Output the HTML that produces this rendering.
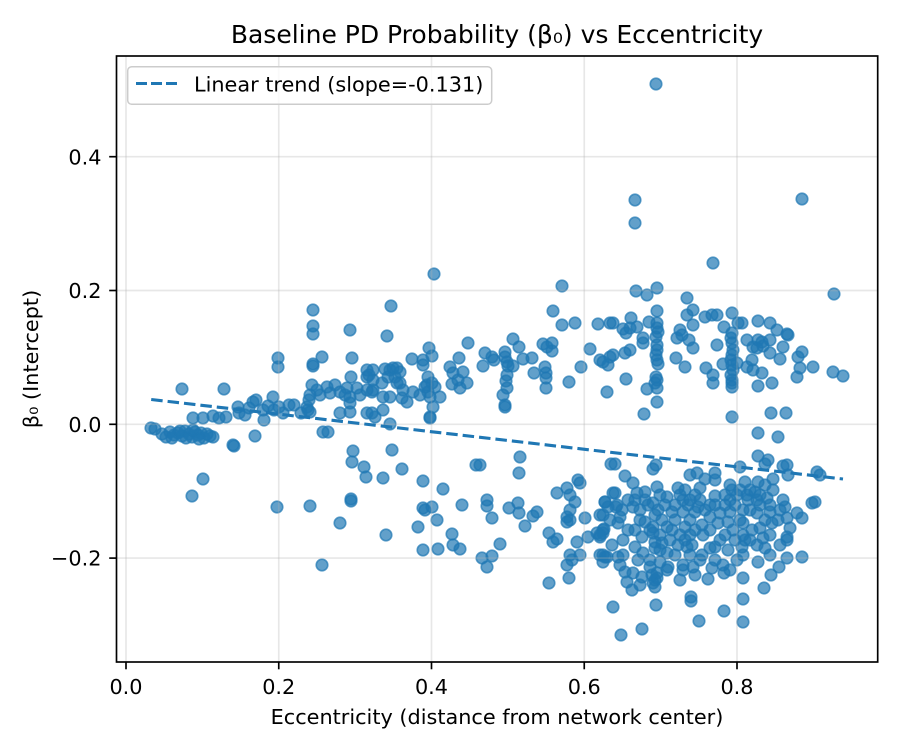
<!DOCTYPE html>
<html><head><meta charset="utf-8"><style>
html,body{margin:0;padding:0;background:#fff;}
svg{display:block;}
text{font-family:"DejaVu Sans","Liberation Sans",sans-serif;fill:#000;}
</style></head><body>
<svg width="900" height="750" viewBox="0 0 900 750" xmlns="http://www.w3.org/2000/svg">
<rect x="0" y="0" width="900" height="750" fill="#fff"/>
<text x="497" y="43" font-size="25" text-anchor="middle">Baseline PD Probability (β₀) vs Eccentricity</text>
<g fill="#1f77b4" fill-opacity="0.7" stroke="#1f77b4" stroke-opacity="0.7" stroke-width="1.6">
<circle cx="151" cy="428" r="5.8"/><circle cx="155" cy="429" r="5.8"/>
<circle cx="162" cy="434" r="5.8"/><circle cx="166" cy="437" r="5.8"/><circle cx="170" cy="432" r="5.8"/><circle cx="174" cy="435" r="5.8"/><circle cx="178" cy="433" r="5.8"/><circle cx="182" cy="436" r="5.8"/><circle cx="185" cy="431" r="5.8"/><circle cx="189" cy="434" r="5.8"/><circle cx="192" cy="437" r="5.8"/><circle cx="195" cy="432" r="5.8"/><circle cx="198" cy="435" r="5.8"/><circle cx="201" cy="433" r="5.8"/><circle cx="204" cy="438" r="5.8"/><circle cx="207" cy="434" r="5.8"/><circle cx="210" cy="436" r="5.8"/><circle cx="213" cy="437" r="5.8"/><circle cx="172" cy="438" r="5.8"/><circle cx="186" cy="438" r="5.8"/><circle cx="199" cy="439" r="5.8"/><circle cx="180" cy="431" r="5.8"/><circle cx="193" cy="430" r="5.8"/>
<circle cx="182" cy="389" r="5.8"/><circle cx="224" cy="389" r="5.8"/>
<circle cx="193" cy="418" r="5.8"/><circle cx="203" cy="418" r="5.8"/><circle cx="213" cy="416" r="5.8"/><circle cx="219" cy="418" r="5.8"/><circle cx="226" cy="417" r="5.8"/>
<circle cx="233" cy="445" r="5.8"/><circle cx="234" cy="446" r="5.8"/><circle cx="255" cy="436" r="5.8"/>
<circle cx="203" cy="479" r="5.8"/><circle cx="192" cy="496" r="5.8"/>
<circle cx="238" cy="407" r="5.8"/><circle cx="239" cy="413" r="5.8"/><circle cx="249" cy="408" r="5.8"/><circle cx="253" cy="402" r="5.8"/><circle cx="256" cy="400" r="5.8"/><circle cx="263" cy="410" r="5.8"/><circle cx="264" cy="420" r="5.8"/><circle cx="273" cy="397" r="5.8"/><circle cx="274" cy="410" r="5.8"/><circle cx="279" cy="407" r="5.8"/><circle cx="283" cy="413" r="5.8"/><circle cx="289" cy="405" r="5.8"/><circle cx="294" cy="405" r="5.8"/><circle cx="301" cy="413" r="5.8"/><circle cx="308" cy="410" r="5.8"/><circle cx="309" cy="400" r="5.8"/><circle cx="268" cy="406" r="5.8"/><circle cx="245" cy="415" r="5.8"/>
<circle cx="278" cy="358" r="5.8"/><circle cx="278" cy="367" r="5.8"/>
<circle cx="313" cy="310" r="5.8"/><circle cx="313" cy="326" r="5.8"/><circle cx="313" cy="334" r="5.8"/><circle cx="313" cy="364" r="5.8"/><circle cx="313" cy="366" r="5.8"/><circle cx="322" cy="357" r="5.8"/><circle cx="350" cy="330" r="5.8"/><circle cx="352" cy="358" r="5.8"/><circle cx="351" cy="377" r="5.8"/>
<circle cx="312" cy="385" r="5.8"/><circle cx="310" cy="395" r="5.8"/><circle cx="317" cy="390" r="5.8"/><circle cx="327" cy="387" r="5.8"/><circle cx="330" cy="393" r="5.8"/><circle cx="340" cy="392" r="5.8"/><circle cx="347" cy="388" r="5.8"/><circle cx="350" cy="397" r="5.8"/><circle cx="357" cy="388" r="5.8"/><circle cx="307" cy="407" r="5.8"/><circle cx="310" cy="412" r="5.8"/><circle cx="340" cy="413" r="5.8"/><circle cx="350" cy="403" r="5.8"/><circle cx="350" cy="412" r="5.8"/><circle cx="367" cy="370" r="5.8"/><circle cx="367" cy="377" r="5.8"/><circle cx="367" cy="390" r="5.8"/><circle cx="367" cy="413" r="5.8"/><circle cx="369" cy="375" r="5.8"/><circle cx="373" cy="380" r="5.8"/><circle cx="335" cy="385" r="5.8"/><circle cx="320" cy="395" r="5.8"/><circle cx="345" cy="395" r="5.8"/><circle cx="360" cy="395" r="5.8"/>
<circle cx="323" cy="432" r="5.8"/><circle cx="328" cy="432" r="5.8"/><circle cx="353" cy="451" r="5.8"/><circle cx="352" cy="462" r="5.8"/><circle cx="364" cy="467" r="5.8"/><circle cx="366" cy="477" r="5.8"/><circle cx="277" cy="507" r="5.8"/><circle cx="310" cy="506" r="5.8"/><circle cx="340" cy="523" r="5.8"/><circle cx="351" cy="499" r="5.8"/><circle cx="351" cy="501" r="5.8"/><circle cx="322" cy="565" r="5.8"/>
<circle cx="434" cy="274" r="5.8"/><circle cx="391" cy="306" r="5.8"/><circle cx="387" cy="336" r="5.8"/><circle cx="562" cy="286" r="5.8"/><circle cx="553" cy="311" r="5.8"/><circle cx="562" cy="325" r="5.8"/><circle cx="575" cy="323" r="5.8"/><circle cx="598" cy="324" r="5.8"/><circle cx="610" cy="323" r="5.8"/><circle cx="513" cy="339" r="5.8"/><circle cx="519" cy="347" r="5.8"/><circle cx="543" cy="344" r="5.8"/><circle cx="547" cy="347" r="5.8"/><circle cx="552" cy="343" r="5.8"/><circle cx="552" cy="351" r="5.8"/><circle cx="590" cy="349" r="5.8"/><circle cx="468" cy="343" r="5.8"/><circle cx="429" cy="348" r="5.8"/><circle cx="432" cy="356" r="5.8"/><circle cx="423" cy="360" r="5.8"/><circle cx="412" cy="359" r="5.8"/><circle cx="423" cy="365" r="5.8"/><circle cx="459" cy="358" r="5.8"/><circle cx="450" cy="367" r="5.8"/><circle cx="453" cy="373" r="5.8"/><circle cx="463" cy="372" r="5.8"/><circle cx="452" cy="384" r="5.8"/><circle cx="460" cy="388" r="5.8"/><circle cx="467" cy="383" r="5.8"/><circle cx="458" cy="380" r="5.8"/><circle cx="485" cy="353" r="5.8"/><circle cx="492" cy="357" r="5.8"/><circle cx="483" cy="366" r="5.8"/><circle cx="494" cy="360" r="5.8"/><circle cx="505" cy="352" r="5.8"/><circle cx="505" cy="357" r="5.8"/><circle cx="507" cy="362" r="5.8"/><circle cx="508" cy="366" r="5.8"/><circle cx="513" cy="366" r="5.8"/><circle cx="507" cy="375" r="5.8"/><circle cx="506" cy="381" r="5.8"/><circle cx="507" cy="388" r="5.8"/><circle cx="503" cy="395" r="5.8"/><circle cx="505" cy="405" r="5.8"/><circle cx="505" cy="407" r="5.8"/><circle cx="523" cy="359" r="5.8"/><circle cx="532" cy="358" r="5.8"/><circle cx="534" cy="373" r="5.8"/><circle cx="545" cy="367" r="5.8"/><circle cx="546" cy="373" r="5.8"/><circle cx="546" cy="378" r="5.8"/><circle cx="546" cy="388" r="5.8"/><circle cx="569" cy="382" r="5.8"/><circle cx="581" cy="367" r="5.8"/><circle cx="603" cy="362" r="5.8"/><circle cx="600" cy="360" r="5.8"/><circle cx="608" cy="365" r="5.8"/><circle cx="607" cy="392" r="5.8"/>
<circle cx="373" cy="370" r="5.8"/><circle cx="385" cy="369" r="5.8"/><circle cx="393" cy="368" r="5.8"/><circle cx="400" cy="372" r="5.8"/><circle cx="388" cy="377" r="5.8"/><circle cx="397" cy="383" r="5.8"/><circle cx="382" cy="383" r="5.8"/><circle cx="373" cy="390" r="5.8"/><circle cx="403" cy="390" r="5.8"/><circle cx="390" cy="370" r="5.8"/><circle cx="397" cy="368" r="5.8"/><circle cx="395" cy="377" r="5.8"/><circle cx="400" cy="383" r="5.8"/><circle cx="383" cy="397" r="5.8"/><circle cx="390" cy="397" r="5.8"/><circle cx="402" cy="398" r="5.8"/><circle cx="407" cy="402" r="5.8"/><circle cx="372" cy="392" r="5.8"/><circle cx="372" cy="413" r="5.8"/><circle cx="375" cy="417" r="5.8"/><circle cx="383" cy="410" r="5.8"/><circle cx="390" cy="424" r="5.8"/><circle cx="413" cy="392" r="5.8"/><circle cx="420" cy="395" r="5.8"/><circle cx="428" cy="377" r="5.8"/><circle cx="432" cy="383" r="5.8"/><circle cx="427" cy="385" r="5.8"/><circle cx="435" cy="387" r="5.8"/><circle cx="440" cy="397" r="5.8"/><circle cx="430" cy="397" r="5.8"/><circle cx="433" cy="407" r="5.8"/><circle cx="430" cy="417" r="5.8"/><circle cx="430" cy="418" r="5.8"/><circle cx="428" cy="392" r="5.8"/><circle cx="425" cy="387" r="5.8"/>
<circle cx="392" cy="450" r="5.8"/><circle cx="402" cy="469" r="5.8"/><circle cx="383" cy="478" r="5.8"/><circle cx="386" cy="535" r="5.8"/><circle cx="423" cy="481" r="5.8"/><circle cx="443" cy="489" r="5.8"/><circle cx="423" cy="508" r="5.8"/><circle cx="425" cy="510" r="5.8"/><circle cx="432" cy="507" r="5.8"/><circle cx="437" cy="520" r="5.8"/><circle cx="418" cy="527" r="5.8"/><circle cx="423" cy="550" r="5.8"/><circle cx="438" cy="549" r="5.8"/><circle cx="452" cy="534" r="5.8"/><circle cx="453" cy="545" r="5.8"/><circle cx="460" cy="549" r="5.8"/><circle cx="462" cy="505" r="5.8"/><circle cx="476" cy="465" r="5.8"/><circle cx="487" cy="500" r="5.8"/><circle cx="487" cy="506" r="5.8"/><circle cx="492" cy="518" r="5.8"/><circle cx="500" cy="544" r="5.8"/><circle cx="482" cy="558" r="5.8"/><circle cx="487" cy="567" r="5.8"/><circle cx="492" cy="556" r="5.8"/><circle cx="520" cy="457" r="5.8"/><circle cx="519" cy="473" r="5.8"/><circle cx="480" cy="465" r="5.8"/><circle cx="509" cy="508" r="5.8"/><circle cx="518" cy="503" r="5.8"/><circle cx="519" cy="513" r="5.8"/><circle cx="525" cy="526" r="5.8"/><circle cx="533" cy="516" r="5.8"/><circle cx="537" cy="512" r="5.8"/><circle cx="549" cy="533" r="5.8"/><circle cx="553" cy="542" r="5.8"/><circle cx="557" cy="539" r="5.8"/><circle cx="549" cy="583" r="5.8"/><circle cx="569" cy="578" r="5.8"/><circle cx="557" cy="493" r="5.8"/><circle cx="567" cy="488" r="5.8"/><circle cx="570" cy="495" r="5.8"/><circle cx="578" cy="480" r="5.8"/><circle cx="580" cy="483" r="5.8"/><circle cx="575" cy="502" r="5.8"/><circle cx="570" cy="510" r="5.8"/><circle cx="567" cy="517" r="5.8"/><circle cx="570" cy="520" r="5.8"/><circle cx="567" cy="522" r="5.8"/><circle cx="585" cy="518" r="5.8"/><circle cx="577" cy="542" r="5.8"/><circle cx="570" cy="555" r="5.8"/><circle cx="580" cy="555" r="5.8"/><circle cx="567" cy="565" r="5.8"/><circle cx="572" cy="560" r="5.8"/><circle cx="588" cy="537" r="5.8"/><circle cx="597" cy="533" r="5.8"/><circle cx="600" cy="537" r="5.8"/><circle cx="603" cy="533" r="5.8"/><circle cx="604" cy="529" r="5.8"/><circle cx="600" cy="555" r="5.8"/><circle cx="603" cy="562" r="5.8"/><circle cx="605" cy="557" r="5.8"/><circle cx="605" cy="502" r="5.8"/><circle cx="603" cy="515" r="5.8"/><circle cx="608" cy="507" r="5.8"/><circle cx="611" cy="464" r="5.8"/><circle cx="613" cy="493" r="5.8"/><circle cx="616" cy="507" r="5.8"/><circle cx="618" cy="557" r="5.8"/>
<circle cx="656" cy="84" r="5.8"/><circle cx="635" cy="200" r="5.8"/><circle cx="635" cy="223" r="5.8"/><circle cx="802" cy="199" r="5.8"/>
<circle cx="713" cy="263" r="5.8"/><circle cx="834" cy="294" r="5.8"/><circle cx="636" cy="291" r="5.8"/><circle cx="647" cy="295" r="5.8"/><circle cx="657" cy="288" r="5.8"/><circle cx="687" cy="298" r="5.8"/><circle cx="657" cy="311" r="5.8"/><circle cx="613" cy="323" r="5.8"/><circle cx="631" cy="318" r="5.8"/><circle cx="623" cy="329" r="5.8"/><circle cx="630" cy="328" r="5.8"/><circle cx="637" cy="327" r="5.8"/><circle cx="626" cy="333" r="5.8"/><circle cx="643" cy="338" r="5.8"/><circle cx="643" cy="343" r="5.8"/><circle cx="649" cy="322" r="5.8"/>
<circle cx="657" cy="323" r="5.8"/><circle cx="657" cy="328" r="5.8"/><circle cx="658" cy="332" r="5.8"/><circle cx="656" cy="337" r="5.8"/><circle cx="657" cy="345" r="5.8"/><circle cx="657" cy="350" r="5.8"/><circle cx="656" cy="355" r="5.8"/><circle cx="657" cy="360" r="5.8"/><circle cx="658" cy="364" r="5.8"/><circle cx="656" cy="377" r="5.8"/><circle cx="657" cy="380" r="5.8"/><circle cx="655" cy="383" r="5.8"/><circle cx="657" cy="388" r="5.8"/><circle cx="647" cy="389" r="5.8"/><circle cx="657" cy="402" r="5.8"/><circle cx="644" cy="414" r="5.8"/><circle cx="626" cy="379" r="5.8"/>
<circle cx="610" cy="357" r="5.8"/><circle cx="613" cy="355" r="5.8"/><circle cx="625" cy="353" r="5.8"/><circle cx="630" cy="350" r="5.8"/>
<circle cx="687" cy="315" r="5.8"/><circle cx="693" cy="310" r="5.8"/><circle cx="693" cy="325" r="5.8"/><circle cx="680" cy="330" r="5.8"/><circle cx="682" cy="335" r="5.8"/><circle cx="677" cy="338" r="5.8"/><circle cx="689" cy="340" r="5.8"/><circle cx="693" cy="348" r="5.8"/><circle cx="676" cy="358" r="5.8"/><circle cx="685" cy="367" r="5.8"/>
<circle cx="705" cy="317" r="5.8"/><circle cx="712" cy="315" r="5.8"/><circle cx="717" cy="315" r="5.8"/><circle cx="732" cy="313" r="5.8"/><circle cx="724" cy="327" r="5.8"/><circle cx="717" cy="345" r="5.8"/><circle cx="723" cy="364" r="5.8"/><circle cx="706" cy="368" r="5.8"/><circle cx="713" cy="375" r="5.8"/><circle cx="713" cy="383" r="5.8"/>
<circle cx="732" cy="333" r="5.8"/><circle cx="731" cy="338" r="5.8"/><circle cx="732" cy="343" r="5.8"/><circle cx="733" cy="350" r="5.8"/><circle cx="732" cy="355" r="5.8"/><circle cx="731" cy="360" r="5.8"/><circle cx="732" cy="365" r="5.8"/><circle cx="733" cy="370" r="5.8"/><circle cx="731" cy="375" r="5.8"/><circle cx="732" cy="380" r="5.8"/><circle cx="732" cy="383" r="5.8"/><circle cx="732" cy="387" r="5.8"/><circle cx="737" cy="363" r="5.8"/><circle cx="738" cy="323" r="5.8"/><circle cx="742" cy="323" r="5.8"/><circle cx="732" cy="417" r="5.8"/>
<circle cx="747" cy="340" r="5.8"/><circle cx="753" cy="347" r="5.8"/><circle cx="758" cy="340" r="5.8"/><circle cx="762" cy="342" r="5.8"/><circle cx="770" cy="340" r="5.8"/><circle cx="763" cy="346" r="5.8"/><circle cx="757" cy="348" r="5.8"/><circle cx="752" cy="360" r="5.8"/><circle cx="753" cy="370" r="5.8"/><circle cx="762" cy="373" r="5.8"/><circle cx="758" cy="386" r="5.8"/><circle cx="772" cy="383" r="5.8"/><circle cx="770" cy="353" r="5.8"/><circle cx="747" cy="367" r="5.8"/>
<circle cx="758" cy="321" r="5.8"/><circle cx="770" cy="323" r="5.8"/><circle cx="777" cy="330" r="5.8"/><circle cx="787" cy="334" r="5.8"/><circle cx="788" cy="335" r="5.8"/><circle cx="783" cy="347" r="5.8"/><circle cx="780" cy="359" r="5.8"/><circle cx="802" cy="352" r="5.8"/><circle cx="798" cy="357" r="5.8"/><circle cx="800" cy="368" r="5.8"/><circle cx="797" cy="377" r="5.8"/><circle cx="813" cy="367" r="5.8"/><circle cx="833" cy="372" r="5.8"/><circle cx="843" cy="376" r="5.8"/>
<circle cx="771" cy="413" r="5.8"/><circle cx="786" cy="413" r="5.8"/><circle cx="758" cy="433" r="5.8"/><circle cx="778" cy="437" r="5.8"/>
<circle cx="758" cy="456" r="5.8"/><circle cx="768" cy="460" r="5.8"/><circle cx="765" cy="464" r="5.8"/><circle cx="783" cy="466" r="5.8"/><circle cx="787" cy="465" r="5.8"/><circle cx="788" cy="475" r="5.8"/><circle cx="740" cy="467" r="5.8"/><circle cx="817" cy="472" r="5.8"/><circle cx="820" cy="475" r="5.8"/><circle cx="615" cy="464" r="5.8"/><circle cx="656" cy="465" r="5.8"/><circle cx="653" cy="469" r="5.8"/><circle cx="625" cy="476" r="5.8"/><circle cx="633" cy="483" r="5.8"/>
<circle cx="615" cy="493" r="5.8"/><circle cx="637" cy="493" r="5.8"/><circle cx="645" cy="492" r="5.8"/><circle cx="657" cy="487" r="5.8"/><circle cx="678" cy="488" r="5.8"/><circle cx="690" cy="475" r="5.8"/><circle cx="697" cy="473" r="5.8"/><circle cx="715" cy="473" r="5.8"/><circle cx="715" cy="480" r="5.8"/><circle cx="705" cy="479" r="5.8"/><circle cx="732" cy="490" r="5.8"/><circle cx="745" cy="482" r="5.8"/><circle cx="758" cy="482" r="5.8"/><circle cx="773" cy="479" r="5.8"/><circle cx="773" cy="490" r="5.8"/>
<circle cx="605" cy="502" r="5.8"/><circle cx="617" cy="505" r="5.8"/><circle cx="635" cy="500" r="5.8"/><circle cx="653" cy="503" r="5.8"/><circle cx="667" cy="497" r="5.8"/><circle cx="683" cy="500" r="5.8"/><circle cx="695" cy="495" r="5.8"/><circle cx="715" cy="496" r="5.8"/><circle cx="730" cy="500" r="5.8"/><circle cx="747" cy="495" r="5.8"/><circle cx="757" cy="500" r="5.8"/><circle cx="767" cy="498" r="5.8"/><circle cx="783" cy="500" r="5.8"/><circle cx="785" cy="507" r="5.8"/><circle cx="812" cy="503" r="5.8"/><circle cx="815" cy="502" r="5.8"/>
<circle cx="600" cy="515" r="5.8"/><circle cx="620" cy="517" r="5.8"/><circle cx="633" cy="507" r="5.8"/><circle cx="645" cy="522" r="5.8"/><circle cx="658" cy="510" r="5.8"/><circle cx="672" cy="512" r="5.8"/><circle cx="683" cy="512" r="5.8"/><circle cx="698" cy="507" r="5.8"/><circle cx="710" cy="517" r="5.8"/><circle cx="720" cy="513" r="5.8"/><circle cx="730" cy="512" r="5.8"/><circle cx="743" cy="510" r="5.8"/><circle cx="757" cy="513" r="5.8"/><circle cx="770" cy="512" r="5.8"/><circle cx="787" cy="518" r="5.8"/><circle cx="797" cy="513" r="5.8"/><circle cx="802" cy="518" r="5.8"/>
<circle cx="603" cy="530" r="5.8"/><circle cx="618" cy="523" r="5.8"/><circle cx="640" cy="520" r="5.8"/><circle cx="653" cy="527" r="5.8"/><circle cx="667" cy="527" r="5.8"/><circle cx="685" cy="527" r="5.8"/><circle cx="702" cy="525" r="5.8"/><circle cx="718" cy="523" r="5.8"/><circle cx="733" cy="530" r="5.8"/><circle cx="743" cy="523" r="5.8"/><circle cx="760" cy="528" r="5.8"/><circle cx="772" cy="523" r="5.8"/><circle cx="600" cy="535" r="5.8"/><circle cx="623" cy="540" r="5.8"/><circle cx="642" cy="537" r="5.8"/><circle cx="653" cy="533" r="5.8"/><circle cx="680" cy="535" r="5.8"/><circle cx="690" cy="535" r="5.8"/><circle cx="703" cy="535" r="5.8"/><circle cx="743" cy="535" r="5.8"/><circle cx="763" cy="538" r="5.8"/><circle cx="787" cy="537" r="5.8"/><circle cx="787" cy="540" r="5.8"/>
<circle cx="603" cy="555" r="5.8"/><circle cx="607" cy="557" r="5.8"/><circle cx="623" cy="555" r="5.8"/><circle cx="635" cy="547" r="5.8"/><circle cx="643" cy="553" r="5.8"/><circle cx="655" cy="542" r="5.8"/><circle cx="660" cy="550" r="5.8"/><circle cx="667" cy="553" r="5.8"/><circle cx="678" cy="545" r="5.8"/><circle cx="687" cy="547" r="5.8"/><circle cx="690" cy="555" r="5.8"/><circle cx="702" cy="555" r="5.8"/><circle cx="710" cy="548" r="5.8"/><circle cx="715" cy="547" r="5.8"/><circle cx="742" cy="547" r="5.8"/><circle cx="743" cy="555" r="5.8"/><circle cx="737" cy="560" r="5.8"/><circle cx="758" cy="562" r="5.8"/><circle cx="770" cy="555" r="5.8"/><circle cx="780" cy="545" r="5.8"/><circle cx="787" cy="558" r="5.8"/><circle cx="802" cy="557" r="5.8"/>
<circle cx="625" cy="572" r="5.8"/><circle cx="627" cy="582" r="5.8"/><circle cx="633" cy="573" r="5.8"/><circle cx="642" cy="577" r="5.8"/><circle cx="650" cy="567" r="5.8"/><circle cx="657" cy="573" r="5.8"/><circle cx="655" cy="580" r="5.8"/><circle cx="655" cy="587" r="5.8"/><circle cx="667" cy="570" r="5.8"/><circle cx="668" cy="567" r="5.8"/><circle cx="683" cy="565" r="5.8"/><circle cx="683" cy="570" r="5.8"/><circle cx="693" cy="567" r="5.8"/><circle cx="712" cy="568" r="5.8"/><circle cx="708" cy="579" r="5.8"/><circle cx="723" cy="565" r="5.8"/><circle cx="724" cy="573" r="5.8"/><circle cx="743" cy="578" r="5.8"/><circle cx="771" cy="575" r="5.8"/><circle cx="779" cy="567" r="5.8"/><circle cx="764" cy="588" r="5.8"/><circle cx="653" cy="583" r="5.8"/>
<circle cx="613" cy="607" r="5.8"/><circle cx="621" cy="635" r="5.8"/><circle cx="642" cy="629" r="5.8"/><circle cx="656" cy="605" r="5.8"/><circle cx="691" cy="597" r="5.8"/><circle cx="691" cy="601" r="5.8"/><circle cx="699" cy="621" r="5.8"/><circle cx="724" cy="611" r="5.8"/><circle cx="743" cy="599" r="5.8"/><circle cx="743" cy="622" r="5.8"/>
<circle cx="648" cy="505" r="5.8"/><circle cx="655" cy="515" r="5.8"/><circle cx="662" cy="520" r="5.8"/><circle cx="650" cy="530" r="5.8"/><circle cx="665" cy="505" r="5.8"/><circle cx="680" cy="495" r="5.8"/><circle cx="688" cy="505" r="5.8"/><circle cx="695" cy="512" r="5.8"/><circle cx="685" cy="490" r="5.8"/><circle cx="730" cy="485" r="5.8"/><circle cx="737" cy="495" r="5.8"/><circle cx="750" cy="490" r="5.8"/><circle cx="760" cy="505" r="5.8"/><circle cx="765" cy="520" r="5.8"/><circle cx="740" cy="520" r="5.8"/><circle cx="752" cy="530" r="5.8"/><circle cx="735" cy="505" r="5.8"/><circle cx="728" cy="522" r="5.8"/><circle cx="685" cy="540" r="5.8"/><circle cx="692" cy="545" r="5.8"/><circle cx="655" cy="548" r="5.8"/><circle cx="662" cy="543" r="5.8"/><circle cx="657" cy="578" r="5.8"/><circle cx="652" cy="575" r="5.8"/><circle cx="700" cy="500" r="5.8"/><circle cx="710" cy="505" r="5.8"/><circle cx="725" cy="495" r="5.8"/><circle cx="622" cy="510" r="5.8"/><circle cx="610" cy="520" r="5.8"/><circle cx="640" cy="510" r="5.8"/><circle cx="748" cy="500" r="5.8"/><circle cx="755" cy="492" r="5.8"/><circle cx="765" cy="485" r="5.8"/><circle cx="700" cy="488" r="5.8"/><circle cx="675" cy="520" r="5.8"/><circle cx="690" cy="520" r="5.8"/><circle cx="720" cy="540" r="5.8"/><circle cx="628" cy="530" r="5.8"/><circle cx="638" cy="560" r="5.8"/><circle cx="695" cy="575" r="5.8"/><circle cx="745" cy="540" r="5.8"/><circle cx="757" cy="545" r="5.8"/><circle cx="770" cy="535" r="5.8"/><circle cx="778" cy="520" r="5.8"/><circle cx="790" cy="528" r="5.8"/><circle cx="728" cy="550" r="5.8"/><circle cx="670" cy="540" r="5.8"/><circle cx="612" cy="545" r="5.8"/><circle cx="632" cy="590" r="5.8"/><circle cx="680" cy="580" r="5.8"/>
<circle cx="628" cy="500" r="5.8"/><circle cx="645" cy="500" r="5.8"/><circle cx="660" cy="495" r="5.8"/><circle cx="675" cy="505" r="5.8"/><circle cx="690" cy="500" r="5.8"/><circle cx="705" cy="510" r="5.8"/><circle cx="715" cy="505" r="5.8"/><circle cx="725" cy="505" r="5.8"/><circle cx="740" cy="490" r="5.8"/><circle cx="760" cy="495" r="5.8"/><circle cx="750" cy="510" r="5.8"/><circle cx="770" cy="505" r="5.8"/><circle cx="780" cy="510" r="5.8"/><circle cx="635" cy="530" r="5.8"/><circle cx="660" cy="535" r="5.8"/><circle cx="672" cy="530" r="5.8"/><circle cx="695" cy="530" r="5.8"/><circle cx="710" cy="530" r="5.8"/><circle cx="725" cy="535" r="5.8"/><circle cx="735" cy="540" r="5.8"/><circle cx="750" cy="540" r="5.8"/><circle cx="765" cy="548" r="5.8"/><circle cx="650" cy="560" r="5.8"/><circle cx="675" cy="555" r="5.8"/><circle cx="700" cy="560" r="5.8"/><circle cx="715" cy="560" r="5.8"/><circle cx="730" cy="570" r="5.8"/><circle cx="660" cy="562" r="5.8"/><circle cx="620" cy="565" r="5.8"/><circle cx="640" cy="585" r="5.8"/>
</g>
<g stroke="#b0b0b0" stroke-opacity="0.3" stroke-width="1.67">
<line x1="126" y1="56" x2="126" y2="662"/><line x1="278.75" y1="56" x2="278.75" y2="662"/><line x1="431.5" y1="56" x2="431.5" y2="662"/><line x1="584.25" y1="56" x2="584.25" y2="662"/><line x1="737" y1="56" x2="737" y2="662"/>
<line x1="116.5" y1="156.7" x2="877.7" y2="156.7"/><line x1="116.5" y1="290.5" x2="877.7" y2="290.5"/><line x1="116.5" y1="424.3" x2="877.7" y2="424.3"/><line x1="116.5" y1="558.1" x2="877.7" y2="558.1"/>
</g>
<line x1="151.2" y1="399.5" x2="843" y2="479" stroke="#1f77b4" stroke-width="3.1" stroke-dasharray="11.5,5"/>
<rect x="116.5" y="56" width="761.2" height="606" fill="none" stroke="#000" stroke-width="1.67"/>
<g stroke="#000" stroke-width="1.67">
<line x1="126" y1="662" x2="126" y2="669.3"/><line x1="278.75" y1="662" x2="278.75" y2="669.3"/><line x1="431.5" y1="662" x2="431.5" y2="669.3"/><line x1="584.25" y1="662" x2="584.25" y2="669.3"/><line x1="737" y1="662" x2="737" y2="669.3"/>
<line x1="109.2" y1="156.7" x2="116.5" y2="156.7"/><line x1="109.2" y1="290.5" x2="116.5" y2="290.5"/><line x1="109.2" y1="424.3" x2="116.5" y2="424.3"/><line x1="109.2" y1="558.1" x2="116.5" y2="558.1"/>
</g>
<g font-size="20.8" text-anchor="middle">
<text x="126" y="694">0.0</text><text x="278.75" y="694">0.2</text><text x="431.5" y="694">0.4</text><text x="584.25" y="694">0.6</text><text x="737" y="694">0.8</text>
</g>
<g font-size="20.8" text-anchor="end">
<text x="101.5" y="164.3">0.4</text><text x="101.5" y="298.1">0.2</text><text x="101.5" y="431.9">0.0</text><text x="101.5" y="565.7">−0.2</text>
</g>
<text x="497" y="724" font-size="20.8" text-anchor="middle">Eccentricity (distance from network center)</text>
<text transform="translate(38,359) rotate(-90)" font-size="20.8" text-anchor="middle">β₀ (Intercept)</text>
<rect x="127.7" y="66.7" width="364" height="37.6" rx="4" ry="4" fill="#fff" fill-opacity="0.8" stroke="#cccccc" stroke-width="1.5"/>
<line x1="136" y1="83.5" x2="177" y2="83.5" stroke="#1f77b4" stroke-width="3.1" stroke-dasharray="11,4"/>
<text x="194" y="91.7" font-size="20.8">Linear trend (slope=-0.131)</text>
</svg>
</body></html>
